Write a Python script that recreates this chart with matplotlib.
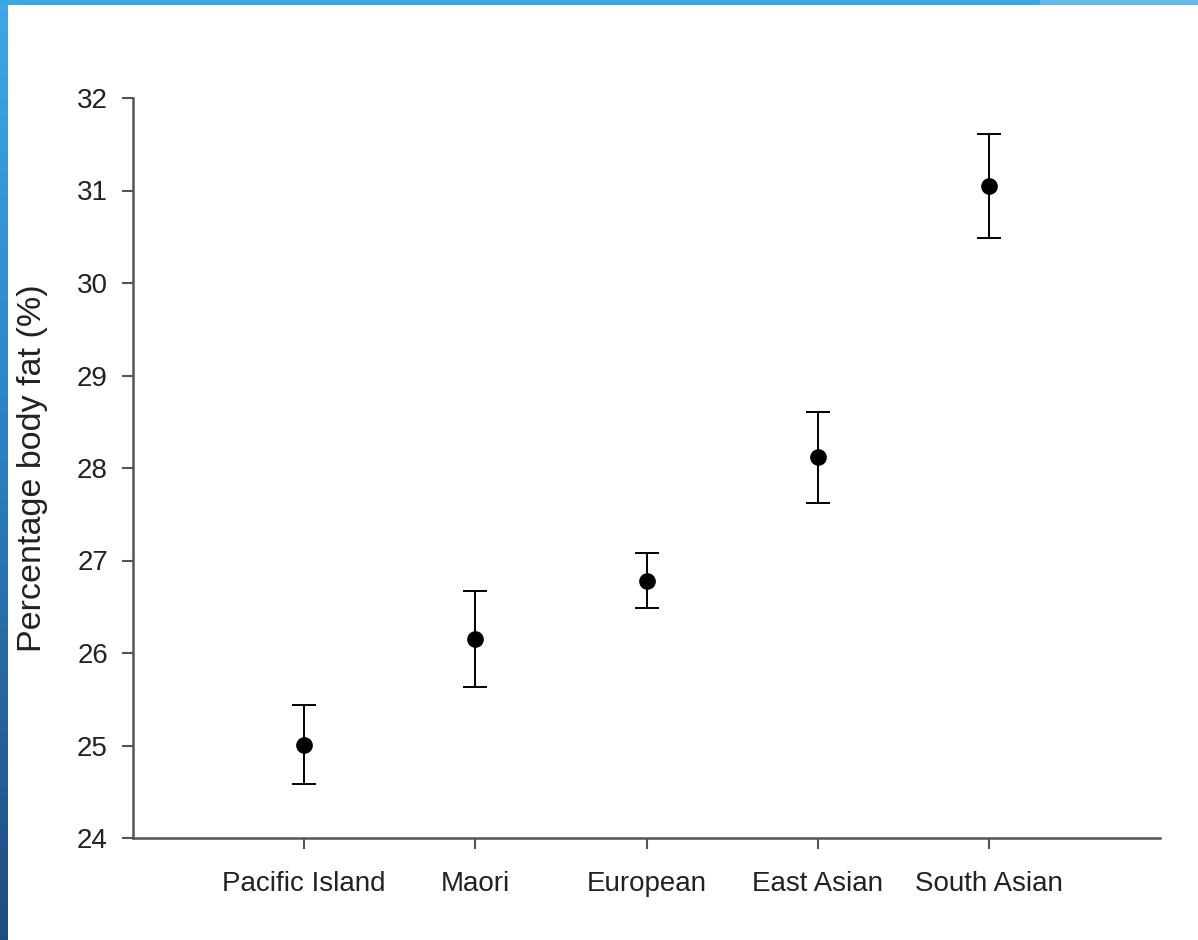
import numpy as np
import matplotlib
matplotlib.use("Agg")
import matplotlib.pyplot as plt
from matplotlib.colors import LinearSegmentedColormap

categories = ["Pacific Island", "Maori", "European", "East Asian", "South Asian"]
means = [25.01, 26.15, 26.78, 28.12, 31.05]
upper = [25.44, 26.67, 27.08, 28.61, 31.61]
lower = [24.58, 25.63, 26.49, 27.62, 30.49]
yticks = [24, 25, 26, 27, 28, 29, 30, 31, 32]

plt.rcParams['font.family'] = ['Liberation Sans', 'DejaVu Sans']

fig = plt.figure(figsize=(11.98, 9.40), dpi=100)
fig.patch.set_facecolor('white')

# decorative frame: left gradient bar, top bar
lb = fig.add_axes([0, 0, 8/1198, 1])
cmap = LinearSegmentedColormap.from_list('b', ['#3AAAE8', '#2A7EC0', '#1E4C80'])
lb.imshow(np.linspace(0, 1, 256).reshape(-1, 1), aspect='auto', cmap=cmap, extent=[0, 1, 0, 1], origin='upper')
lb.axis('off')
tb = fig.add_axes([0, 1 - 5/940, 1, 5/940])
tb.set_xlim(0, 1); tb.set_ylim(0, 1)
tb.fill_between([0, 1040/1198], 0, 1, color='#36A9E6', lw=0)
tb.fill_between([1040/1198, 1], 0, 1, color='#62B9EC', lw=0)
tb.axis('off')

ax = fig.add_axes([133/1198, 1 - 838/940, (1160 - 133)/1198, (838 - 98)/940])
x = np.arange(1, len(categories) + 1)
m = np.array(means)
yerr = np.vstack([m - np.array(lower), np.array(upper) - m])
ax.errorbar(x, m, yerr=yerr, fmt='o', color='black', markersize=11,
            ecolor='black', elinewidth=1.4, capsize=8.3, capthick=1.4)

ax.set_xlim(0, 6)
ax.set_ylim(24, 32)
ax.set_yticks(yticks)
ax.set_xticks(x)
ax.set_xticklabels(categories)
for s in ['top', 'right']:
    ax.spines[s].set_visible(False)
for s in ['left', 'bottom']:
    ax.spines[s].set_color('#555555')
    ax.spines[s].set_linewidth(1.8)
ax.tick_params(axis='both', colors='#555555', labelcolor='#222222', labelsize=20,
               width=1.5, length=8, direction='out')
ax.tick_params(axis='y', pad=10)
ax.tick_params(axis='x', pad=15.5)
ax.set_ylabel('Percentage body fat (%)', fontsize=24.5, color='#222222')
ax.yaxis.set_label_coords(-0.083, 0.5)

fig.savefig('out.png', dpi=100, facecolor='white')
